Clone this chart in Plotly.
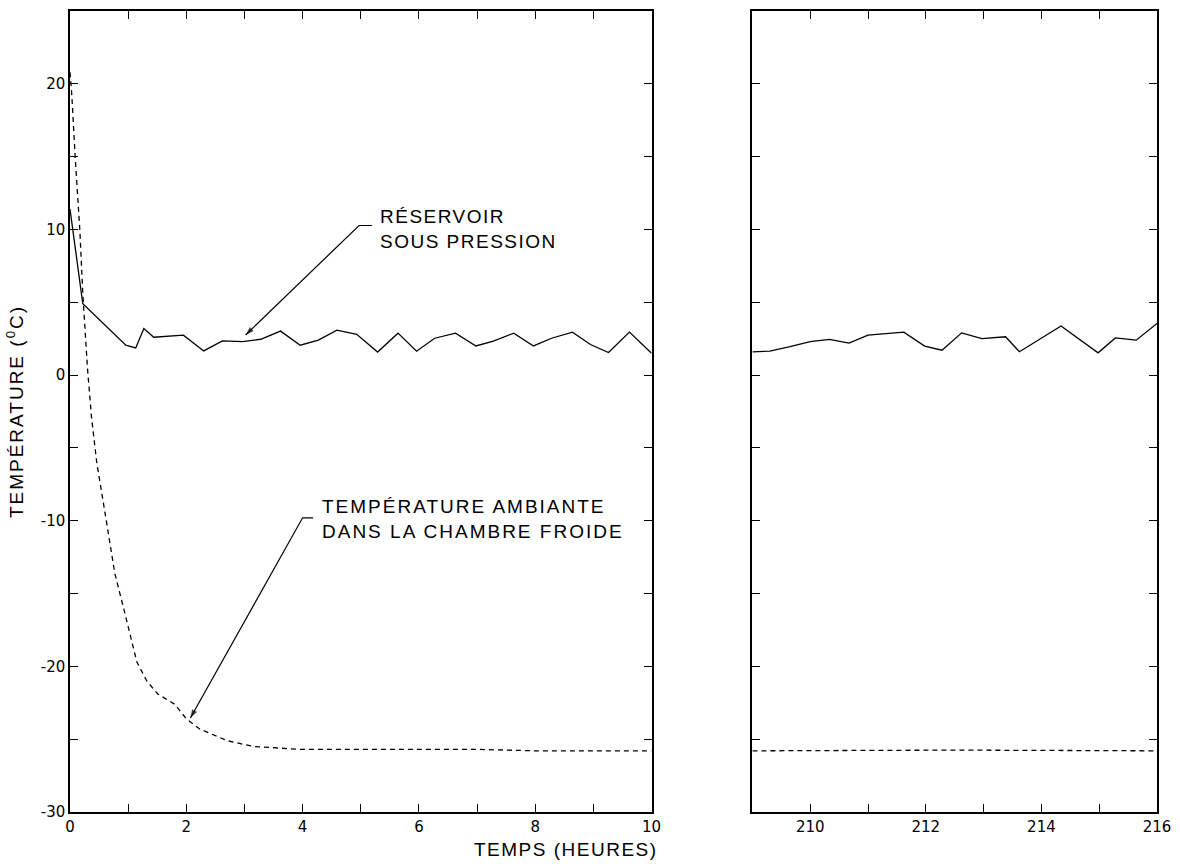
import plotly.graph_objects as go

# Premières heures d'essai (heures)
heures_debut = [0, 0.22, 0.96, 1.13, 1.27, 1.44, 1.95, 2.30, 2.62, 2.97, 3.28, 3.62,
                3.96, 4.27, 4.59, 4.93, 5.29, 5.64, 5.96, 6.27, 6.63, 6.98, 7.28,
                7.63, 7.97, 8.28, 8.64, 8.95, 9.26, 9.62, 10.0]
reservoir_debut = [11.4, 4.9, 2.05, 1.86, 3.2, 2.6, 2.74, 1.66, 2.35, 2.3, 2.46, 3.02,
                   2.05, 2.4, 3.08, 2.8, 1.58, 2.88, 1.64, 2.53, 2.88, 2.0, 2.33,
                   2.88, 2.0, 2.53, 2.95, 2.1, 1.55, 2.95, 1.5]

heures_ambiante = [0, 0.03, 0.09, 0.17, 0.22, 0.30, 0.37, 0.46, 0.62, 0.77, 0.94, 1.15,
                   1.32, 1.51, 1.80, 2.0, 2.23, 2.70, 3.15, 3.95, 5.0, 6.0, 7.0, 8.0,
                   9.0, 10.0]
ambiante_debut = [20.8, 19.3, 14.9, 9.9, 5.6, 0.5, -2.9, -6.0, -9.9, -13.6, -16.3, -19.7,
                  -21.0, -21.9, -22.6, -23.6, -24.3, -25.1, -25.5, -25.7, -25.7, -25.7,
                  -25.7, -25.8, -25.8, -25.8]

# Fin d'essai (heures 209 à 216)
heures_fin = [209.0, 209.3, 209.65, 210.0, 210.33, 210.67, 211.0, 211.62, 211.98, 212.28,
              212.62, 212.97, 213.38, 213.62, 214.34, 214.98, 215.28, 215.64, 216.0]
reservoir_fin = [1.6, 1.65, 1.95, 2.3, 2.45, 2.2, 2.74, 2.95, 1.99, 1.71,
                 2.9, 2.5, 2.63, 1.6, 3.37, 1.53, 2.55, 2.4, 3.55]
heures_fin_ambiante = [209.0, 212.5, 216.0]
ambiante_fin = [-25.8, -25.75, -25.8]

y_tick_vals = [-30, -20, -10, 0, 10, 20]
y_tick_text = ["-30", "-20", "-10", "0", "10", "20"]
x1_tick_vals = [0, 2, 4, 6, 8, 10]
x1_tick_text = ["0", "2", "4", "6", "8", "10"]
x2_tick_vals = [210, 212, 214, 216]
x2_tick_text = ["210", "212", "214", "216"]

FONT = "Liberation Sans, Arial, sans-serif"
TICK_FONT = dict(family="DejaVu Sans, sans-serif", size=15, color="black")


def spaced(text, px=2):
    return f'<span style="letter-spacing:{px}px">{text}</span>'


fig = go.Figure()

solid = dict(color="black", width=1.3)
dashed = dict(color="black", width=1.3, dash="5px,4px")

fig.add_trace(go.Scatter(x=heures_debut, y=reservoir_debut, mode="lines", line=solid,
                         xaxis="x", yaxis="y", showlegend=False))
fig.add_trace(go.Scatter(x=heures_ambiante, y=ambiante_debut, mode="lines", line=dashed,
                         xaxis="x", yaxis="y", showlegend=False))
fig.add_trace(go.Scatter(x=heures_fin, y=reservoir_fin, mode="lines", line=solid,
                         xaxis="x2", yaxis="y2", showlegend=False))
fig.add_trace(go.Scatter(x=heures_fin_ambiante, y=ambiante_fin, mode="lines", line=dashed,
                         xaxis="x2", yaxis="y2", showlegend=False))


def leader(points_x, points_y):
    """Trait de rappel d'une étiquette : petit palier horizontal puis flèche."""
    n = len(points_x)
    fig.add_trace(go.Scatter(
        x=points_x, y=points_y, mode="lines+markers",
        line=dict(color="black", width=1.2),
        marker=dict(symbol=["circle"] * (n - 1) + ["arrow"],
                    size=[0] * (n - 1) + [9], angleref="previous",
                    color="black", line=dict(width=0)),
        xaxis="x", yaxis="y", showlegend=False, hoverinfo="skip"))


# réservoir : palier, coude, pointe sur la courbe
leader([5.19, 4.97, 3.02], [10.27, 10.27, 2.75])
# chambre froide
leader([4.18, 4.0, 2.07], [-9.8, -9.8, -23.55])

axis_common = dict(
    showline=True, linecolor="black", linewidth=1.5, mirror="allticks",
    ticks="inside", ticklen=8, tickwidth=1.2, tickcolor="black",
    showgrid=False, zeroline=False, tickfont=TICK_FONT,
)
minor_common = dict(ticks="inside", ticklen=8, tickwidth=1.2, tickcolor="black", showgrid=False)

fig.update_layout(
    width=1180, height=864,
    margin=dict(l=70, r=22, t=9, b=52),
    paper_bgcolor="white", plot_bgcolor="white",
    xaxis=dict(axis_common, domain=[0, 0.535], range=[0, 10],
               tickmode="array", tickvals=x1_tick_vals, ticktext=x1_tick_text,
               minor=dict(minor_common, tickmode="linear", tick0=0, dtick=1),
               anchor="y"),
    yaxis=dict(axis_common, domain=[0, 1], range=[-30, 25],
               tickmode="array", tickvals=y_tick_vals, ticktext=y_tick_text,
               minor=dict(minor_common, tickmode="linear", tick0=0, dtick=5),
               anchor="x",
               title=dict(text=spaced("TEMPÉRATURE (<sup>0</sup>C)"),
                          font=dict(family=FONT, size=19, color="black"), standoff=12)),
    xaxis2=dict(axis_common, domain=[0.6278, 1], range=[209, 216],
                tickmode="array", tickvals=x2_tick_vals, ticktext=x2_tick_text,
                minor=dict(minor_common, tickmode="linear", tick0=209, dtick=1),
                anchor="y2"),
    yaxis2=dict(axis_common, domain=[0, 1], range=[-30, 25],
                tickmode="linear", tick0=0, dtick=5, showticklabels=False,
                anchor="x2"),
)

label_font = dict(family=FONT, size=19, color="black")

annotations = [
    dict(x=5.29, y=10.03, xref="x", yref="y", xanchor="left", yanchor="middle",
         align="left", showarrow=False, font=label_font,
         text=spaced("RÉSERVOIR", 1.5) + "<br>" + spaced("SOUS PRESSION", 1.5)),
    dict(x=4.30, y=-9.9, xref="x", yref="y", xanchor="left", yanchor="middle",
         align="left", showarrow=False, font=label_font,
         text=spaced("TEMPÉRATURE AMBIANTE") + "<br>" + spaced("DANS LA CHAMBRE FROIDE")),
    # titre de l'axe du temps
    dict(x=0.456, y=-0.047, xref="paper", yref="paper", xanchor="center", yanchor="middle",
         showarrow=False, font=label_font, text=spaced("TEMPS (HEURES)", 1.5)),
]
fig.update_layout(annotations=annotations)

fig.write_html("out.html")
